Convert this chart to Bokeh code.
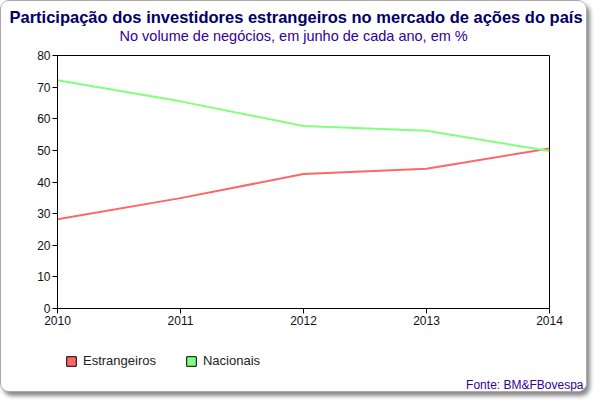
from bokeh.plotting import figure
from bokeh.models import Legend, LegendItem, Range1d, FixedTicker, Title
from bokeh.layouts import column
from bokeh.embed import file_html
from bokeh.resources import INLINE

years = [2010, 2011, 2012, 2013, 2014]
estrangeiros = [28.2, 34.9, 42.5, 44.2, 50.6]
nacionais = [72.2, 65.5, 57.7, 56.2, 49.8]
series_names = ["Estrangeiros", "Nacionais"]
series_colors = ["#ff6666", "#80ff80"]
title_text = "Participação dos investidores estrangeiros no mercado de ações do país"
subtitle_text = "No volume de negócios, em junho de cada ano, em %"
source_text = "Fonte: BM&FBovespa"

FONT = "Liberation Sans"
W = 585
NAN = float("nan")

# ---- main chart ----
p = figure(width=W, height=332, output_backend="svg", toolbar_location=None, title=None,
           x_range=Range1d(2010, 2014), y_range=Range1d(0, 80),
           min_border_left=56, min_border_right=37, min_border_top=54, min_border_bottom=25)
p.background_fill_color = "white"
p.border_fill_color = "white"
p.outline_line_color = "black"
p.outline_line_width = 1
p.grid.visible = False

p.xaxis.ticker = FixedTicker(ticks=years)
p.yaxis.ticker = FixedTicker(ticks=list(range(0, 81, 10)))
for ax in (p.xaxis[0], p.yaxis[0]):
    ax.axis_line_color = "black"
    ax.major_tick_line_color = "black"
    ax.major_tick_in = 0
    ax.major_tick_out = 5
    ax.minor_tick_line_color = None
    ax.major_label_text_font = FONT
    ax.major_label_text_font_size = "12px"
    ax.major_label_text_color = "#111111"
p.xaxis.major_label_standoff = 2
p.yaxis.major_label_standoff = 2

p.line(years, estrangeiros, line_color=series_colors[0], line_width=2)
p.line(years, nacionais, line_color=series_colors[1], line_width=2)

# titles above the plot (first added = closest to the frame)
p.add_layout(Title(text=" ", standoff=0, text_font=FONT, text_font_size="9px",
                   text_color="white"), "above")  # spacer
p.add_layout(Title(text=subtitle_text, align="left", offset=62, standoff=0,
                   text_font=FONT, text_font_size="14.5px", text_font_style="normal",
                   text_color="#330099"), "above")
p.add_layout(Title(text=title_text, align="left", offset=-48, standoff=0,
                   text_font=FONT, text_font_size="16.5px", text_font_style="bold",
                   text_color="#000066"), "above")

# ---- footer (legend + source) ----
foot = figure(width=W, height=58, output_backend="svg", toolbar_location=None,
              x_range=Range1d(0, 1), y_range=Range1d(0, 1),
              x_axis_location=None, y_axis_location=None,
              min_border_left=56, min_border_right=37, min_border_top=0, min_border_bottom=0)
foot.outline_line_color = None
foot.grid.visible = False
foot.background_fill_color = "white"
foot.border_fill_color = "white"

r1 = foot.quad(left=[NAN], right=[NAN], bottom=[NAN], top=[NAN],
               fill_color=series_colors[0], line_color="black", line_width=1)
r2 = foot.quad(left=[NAN], right=[NAN], bottom=[NAN], top=[NAN],
               fill_color=series_colors[1], line_color="black", line_width=1)
legend = Legend(items=[LegendItem(label=series_names[0], renderers=[r1]),
                       LegendItem(label=series_names[1], renderers=[r2])],
                orientation="horizontal", location=(8, 7),
                border_line_color=None, background_fill_alpha=0,
                padding=0, margin=0, spacing=29, glyph_width=12, glyph_height=12,
                label_height=14, label_standoff=6, label_text_font=FONT,
                label_text_font_size="13px", label_text_color="#222222")
foot.add_layout(legend, "center")
foot.add_layout(Title(text=source_text, align="right", offset=-34, standoff=0,
                      text_font=FONT, text_font_size="12px", text_font_style="normal",
                      text_color="#330099"), "below")

layout = column(p, foot, spacing=0,
                styles={"border": "1px solid #aaaaaa", "border-radius": "9px",
                        "box-shadow": "3px 4px 4px #888888", "background": "white",
                        "overflow": "hidden"})

open("out.html", "w").write(file_html(layout, INLINE))
